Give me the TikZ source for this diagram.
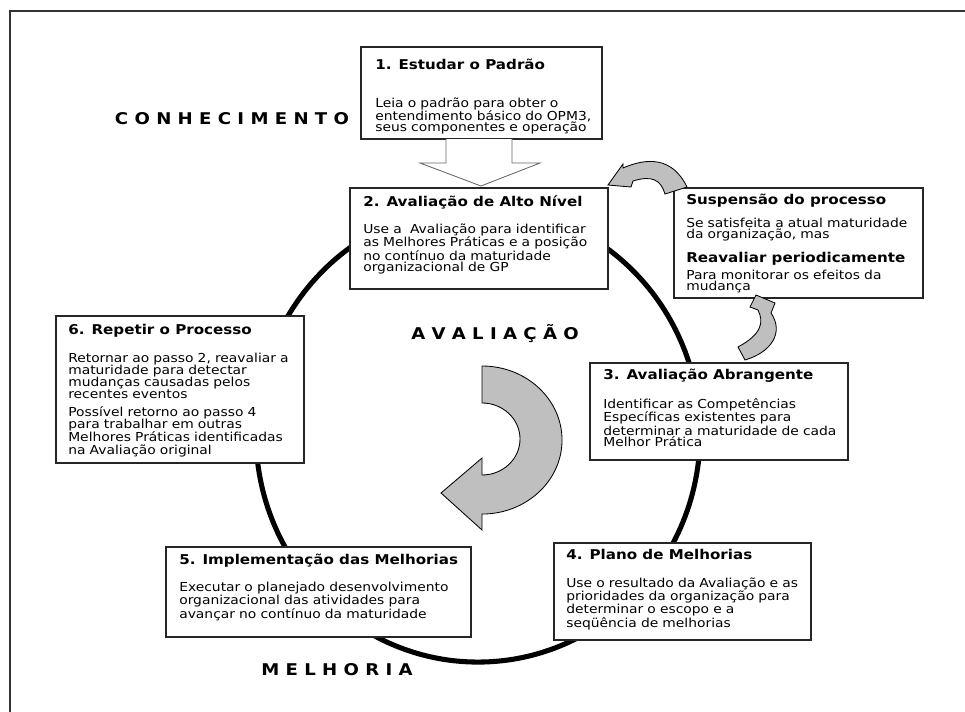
\documentclass[tikz,border=0pt]{standalone}
\usepackage{fontspec}
\setmainfont[FakeStretch=1.12]{DejaVu Sans}
\usetikzlibrary{fit}

\begin{document}
\begin{tikzpicture}[x=0.025cm, y=-0.025cm,
    caixa/.style={draw=black!85, line width=1pt, fill=white, inner sep=0pt},
    titulo/.style={anchor=base west, inner sep=0pt, font=\fontsize{9.6}{11}\selectfont\bfseries},
    texto/.style={anchor=base west, inner sep=0pt, text width=190pt, align=left, font=\fontsize{8.8}{7.9}\selectfont},
    rotulo/.style={anchor=base, inner sep=0pt, font=\fontsize{11.5}{13}\selectfont\bfseries},
    cinza/.style={draw=black, line width=0.6pt, fill=black!25}]
    \useasboundingbox (0,0) rectangle (965,711);

    % Moldura
    \draw[black!80, line width=1.4pt] (10,720) -- (10,11) -- (975,11);

    % Ciclo
    \draw[line width=3.6pt] (478,434) ellipse[x radius=5.55cm, y radius=5.7cm];

    % Seta central
    \draw[cinza] (482,366) arc[start angle=90, end angle=-90, x radius=2cm, y radius=1.85cm]
        -- (482,530) -- (441,493) -- (482,458) -- (482,475)
        arc[start angle=-90, end angle=90, x radius=0.95cm, y radius=0.9cm] -- cycle;

    % Caixas
    \node[caixa, fit={(361,47) (602,139)}] (passo1) {};
    \node[caixa, fit={(350,188) (608,289)}] (passo2) {};
    \node[caixa, fit={(674,188) (923,298)}] (suspensao) {};
    \node[caixa, fit={(590,363) (848,460)}] (passo3) {};
    \node[caixa, fit={(554,543) (811,640)}] (passo4) {};
    \node[caixa, fit={(166,547) (471,637)}] (passo5) {};
    \node[caixa, fit={(56,316) (304,463)}] (passo6) {};

    % Seta vazada do passo 1
    \draw[draw=black!60, line width=0.6pt, fill=white] (446,139) -- (446,163) -- (420,163)
        -- (481,186) -- (540,163) -- (512,163) -- (512,139);

    % Setas curvas
    \draw[cinza] (608,185) -- (623,164) -- (623,168) .. controls (646,158) and (672,156) .. (687,187)
        -- (665,194) .. controls (661,180) and (652,175) .. (633,181) -- (631,187) -- cycle;
    \draw[cinza] (756,295) -- (750,307) -- (758,310) .. controls (764,322) and (762,334) .. (738,347)
        -- (745,360) .. controls (772,352) and (784,332) .. (771,313) -- (775,303) -- cycle;

    % Textos
    \node[titulo] (titulo1) at (375,69) {1. Estudar o Padrão};
    \node[texto] (texto1) at (375,107) {Leia o padrão para obter o\\entendimento básico do OPM3,\\seus componentes e operação};

    \node[titulo] (titulo2) at (363,206) {2. Avaliação de Alto Nível};
    \node[texto] (texto2) at (363,233) {Use a\ \ Avaliação para identificar\\as Melhores Práticas e a posição\\no contínuo da maturidade\\organizacional de GP};

    \node[titulo] (tituloS) at (686,204) {Suspensão do processo};
    \node[texto] (textoS) at (686,227) {Se satisfeita a atual maturidade\\da organização, mas};
    \node[titulo] (tituloR) at (686,262) {Reavaliar periodicamente};
    \node[texto] (textoR) at (686,279) {Para monitorar os efeitos da\\mudança};

    \node[titulo] (titulo3) at (603,379) {3. Avaliação Abrangente};
    \node[texto] (texto3) at (603,408) {Identificar as Competências\\Específicas existentes para\\determinar a maturidade de cada\\Melhor Prática};

    \node[titulo] (titulo4) at (566,559) {4. Plano de Melhorias};
    \node[texto] (texto4) at (566,587) {Use o resultado da Avaliação e as\\prioridades da organização para\\determinar o escopo e a\\seqüência de melhorias};

    \node[titulo] (titulo5) at (179,564) {5. Implementação das Melhorias};
    \node[texto, text width=215pt] (texto5) at (179,591) {Executar o planejado desenvolvimento\\organizacional das atividades para\\avançar no contínuo da maturidade};

    \node[titulo] (titulo6) at (68,334) {6. Repetir o Processo};
    \node[texto, font=\fontsize{8.8}{8.6}\selectfont] (texto6) at (68,362) {Retornar ao passo 2, reavaliar a\\maturidade para detectar\\mudanças causadas pelos\\recentes eventos\\[4pt]Possível retorno ao passo 4\\para trabalhar em outras\\Melhores Práticas identificadas\\na Avaliação original};

    % Fases
    \node[rotulo] (conhecimento) at (232,124) {C O N H E C I M E N T O};
    \node[rotulo] (avaliacao) at (495,339) {A V A L I A Ç Ã O};
    \node[rotulo] (melhoria) at (337,675) {M E L H O R I A};
\end{tikzpicture}
\end{document}
